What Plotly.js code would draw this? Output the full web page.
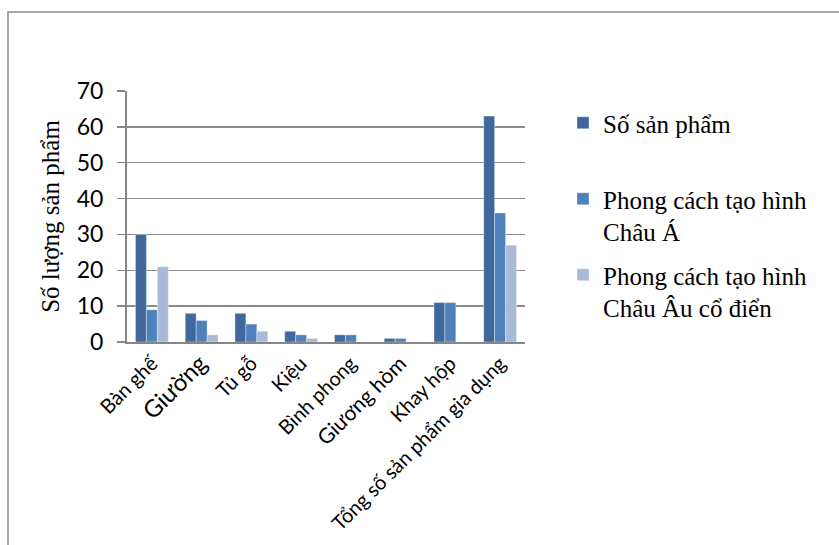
<!DOCTYPE html>
<html>
<head>
<meta charset="utf-8">
<script src="https://cdn.plot.ly/plotly-3.0.1.min.js"></script>
<style>html,body{margin:0;padding:0;background:#fff;}#chart{width:839px;height:545px;}</style>
</head>
<body>
<div id="chart"></div>
<script>
const categories = ["Bàn ghế", "Giường", "Tủ gỗ", "Kiệu", "Bình phong", "Giương hòm", "Khay hộp", "Tổng số sản phẩm gia dụng"];
const tickLabels = ["Bàn ghế", "<span style='font-size:24px'>Giường</span>", "Tủ gỗ", "Kiệu", "Bình phong", "<span style='font-size:21px'>Giương hòm</span>", "Khay hộp", "Tổng số sản phẩm gia dụng"];
const seriesNames = ["Số sản phẩm<br> ", "Phong cách tạo hình<br>Châu Á", "Phong cách tạo hình<br>Châu Âu cổ điển"];
const soSanPham = [30, 8, 8, 3, 2, 1, 11, 63];
const chauA = [9, 6, 5, 2, 2, 1, 11, 36];
const chauAu = [21, 2, 3, 1, 0, 0, 0, 27];
const colors = ["#3F699D", "#4F81BD", "#AAB9D8"];

const values = [soSanPham, chauA, chauAu];
const traces = values.map((v, i) => ({
  type: "bar",
  x: categories,
  y: v,
  name: seriesNames[i],
  legendgroup: "g" + i,
  marker: {color: colors[i], line: {color: "rgba(255,255,255,0.35)", width: 1}},
  hoverinfo: "x+y"
}));

const L = 127, R = 525, T = 91, B = 342, W = 839, H = 545;
const px2x = p => (p - L) / (R - L);
const px2y = p => (B - p) / (B - T);

const layout = {
  width: W, height: H,
  margin: {l: L, r: W - R, t: T, b: H - B, pad: 0},
  paper_bgcolor: "#fff", plot_bgcolor: "#fff",
  barmode: "group", bargap: 0.34, bargroupgap: 0,
  showlegend: true,
  legend: {
    x: px2x(563), xanchor: "left", y: px2y(100), yanchor: "top",
    font: {family: "Liberation Serif, Times New Roman, serif", size: 25, color: "#000"},
    tracegroupgap: 8, valign: "top", bgcolor: "rgba(0,0,0,0)"
  },
  xaxis: {
    type: "category",
    tickmode: "array", tickvals: categories, ticktext: tickLabels,
    tickangle: -45,
    tickfont: {family: "Lato, Open Sans, sans-serif", size: 20, color: "#000"},
    showline: true, linecolor: "#868686", linewidth: 2,
    showgrid: false, ticks: "", automargin: false
  },
  yaxis: {
    range: [0, 70], dtick: 10, tick0: 0,
    tickfont: {family: "Lato, Open Sans, sans-serif", size: 23, color: "#000"},
    ticklabelstandoff: 9,
    showline: true, linecolor: "#868686", linewidth: 2,
    showgrid: true, gridcolor: "#8C8C8C", gridwidth: 1.5,
    ticks: "outside", ticklen: 8, tickcolor: "#868686", tickwidth: 1.5,
    zeroline: false, automargin: false,
    title: {text: "Số lượng sản phẩm", standoff: 10,
      font: {family: "Liberation Serif, Times New Roman, serif", size: 25, color: "#000"}}
  },
  shapes: [{
    type: "rect", xref: "paper", yref: "paper",
    x0: px2x(8), x1: px2x(860), y0: px2y(570), y1: px2y(12),
    line: {color: "#8C8C8C", width: 1.5}, fillcolor: "rgba(0,0,0,0)", layer: "below"
  }]
};

Plotly.newPlot("chart", traces, layout, {displayModeBar: false, staticPlot: true});
</script>
</body>
</html>
